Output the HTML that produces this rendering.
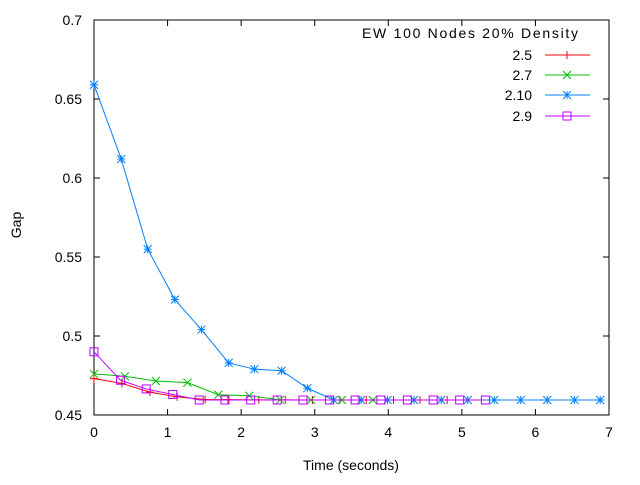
<!DOCTYPE html>
<html><head><meta charset="utf-8"><style>
body{margin:0;background:#fff}
svg{font-family:"Liberation Sans",Arial,sans-serif;font-size:14px}
</style></head><body>
<svg id="chart" width="640" height="480" xmlns="http://www.w3.org/2000/svg"></svg>
<script>
const xTicks=[0,1,2,3,4,5,6,7];
const yTicks=[0.45,0.5,0.55,0.6,0.65,0.7];
const yTickLabels=["0.45","0.5","0.55","0.6","0.65","0.7"];
const seriesNames=["2.5","2.7","2.10","2.9"];
const x25=[0,0.38,0.76,1.13,1.51,1.82,2.24,2.6,2.97,3.34,3.7,4.07,4.43,4.8];
const y25=[0.473,0.470,0.4645,0.4615,0.4598,0.4597,0.4596,0.4596,0.4595,0.4595,0.4595,0.4595,0.4595,0.4595];
const x27=[0,0.42,0.84,1.27,1.69,2.11,2.53,2.95,3.37,3.79];
const y27=[0.476,0.4745,0.4715,0.4705,0.4628,0.4622,0.4596,0.4595,0.4595,0.4595];
const x210=[0,0.37,0.73,1.1,1.46,1.83,2.18,2.55,2.9,3.26,3.63,3.99,4.35,4.72,5.08,5.44,5.8,6.16,6.53,6.88];
const y210=[0.659,0.612,0.555,0.523,0.504,0.483,0.479,0.478,0.467,0.4595,0.4595,0.4595,0.4595,0.4595,0.4595,0.4595,0.4595,0.4595,0.4595,0.4595];
const x29=[0,0.36,0.71,1.07,1.43,1.78,2.13,2.49,2.84,3.2,3.55,3.9,4.26,4.61,4.97,5.32];
const y29=[0.49,0.472,0.4665,0.463,0.4595,0.4595,0.4595,0.4595,0.4595,0.4595,0.4595,0.4595,0.4595,0.4595,0.4595,0.4595];

const L=94,R=609,T=20,B=415;
const sx=v=>L+(v-0)/7*(R-L);
const sy=v=>B-(v-0.45)/0.25*(B-T);
const NS="http://www.w3.org/2000/svg";
const svg=document.getElementById('chart');
function mk(tag,attrs,parent){const e=document.createElementNS(NS,tag);for(const k in attrs)e.setAttribute(k,attrs[k]);(parent||svg).appendChild(e);return e;}

xTicks.forEach(t=>{
  const g=mk('g',{});
  
  
  mk('line',{x1:sx(t),x2:sx(t),y1:B,y2:B-6,stroke:'#000'},g);
  mk('line',{x1:sx(t),x2:sx(t),y1:T,y2:T+6,stroke:'#000'},g);
  const tx=mk('text',{x:sx(t),y:B+22,'text-anchor':'middle'},g);tx.textContent=t;
});
yTicks.forEach((t,i)=>{
  const g=mk('g',{});
  
  
  mk('line',{x1:L,x2:L+6,y1:sy(t),y2:sy(t),stroke:'#000'},g);
  mk('line',{x1:R,x2:R-6,y1:sy(t),y2:sy(t),stroke:'#000'},g);
  const tx=mk('text',{x:L-12,y:sy(t)+5,'text-anchor':'end'},g);tx.textContent=yTickLabels[i];
});
const frame=mk('rect',{x:L,y:T,width:R-L,height:B-T,fill:'none',stroke:'#000'});


const yt=mk('text',{x:16,y:230,'text-anchor':'middle',transform:'rotate(-90 16 225)'});yt.textContent='Gap';


const xt=mk('text',{x:351,y:470,'text-anchor':'middle'});xt.textContent='Time (seconds)';



function marker(g,type,x,y,c){
  const s=4;
  if(type==='plus'){mk('path',{d:`M${x-s} ${y}H${x+s}M${x} ${y-s}V${y+s}`,stroke:c},g);}
  else if(type==='x'){mk('path',{d:`M${x-s} ${y-s}L${x+s} ${y+s}M${x-s} ${y+s}L${x+s} ${y-s}`,stroke:c},g);}
  else if(type==='star'){mk('path',{d:`M${x-s} ${y}H${x+s}M${x} ${y-s}V${y+s}M${x-s} ${y-s}L${x+s} ${y+s}M${x-s} ${y+s}L${x+s} ${y-s}`,stroke:c},g);}
  else {mk('rect',{x:x-s,y:y-s,width:2*s,height:2*s,fill:'none',stroke:c},g);}
}
const series=[[x25,y25,'#ff0000','plus'],[x27,y27,'#00c000','x'],[x210,y210,'#0080ff','star'],[x29,y29,'#c000ff','box']];
const legendY=[55,75,95,116];
const lt=mk('text',{x:362,y:38,textLength:216,lengthAdjust:'spacing'});lt.textContent='EW 100 Nodes 20% Density';


series.forEach((s,i)=>{
  const [xs,ys,c,m]=s;
  const g=mk('g',{});
  
  
  mk('polyline',{points:xs.map((x,j)=>sx(x)+','+sy(ys[j])).join(' '),fill:'none',stroke:c},g);
  xs.forEach((x,j)=>marker(g,m,sx(x),sy(ys[j]),c));
  const lg=mk('g',{});
  
  
  const tx=mk('text',{x:532,y:legendY[i]+5,'text-anchor':'end'},lg);tx.textContent=seriesNames[i];
  mk('line',{x1:545,x2:590,y1:legendY[i],y2:legendY[i],stroke:c},lg);
  marker(lg,m,567,legendY[i],c);
});
</script>
</body></html>
